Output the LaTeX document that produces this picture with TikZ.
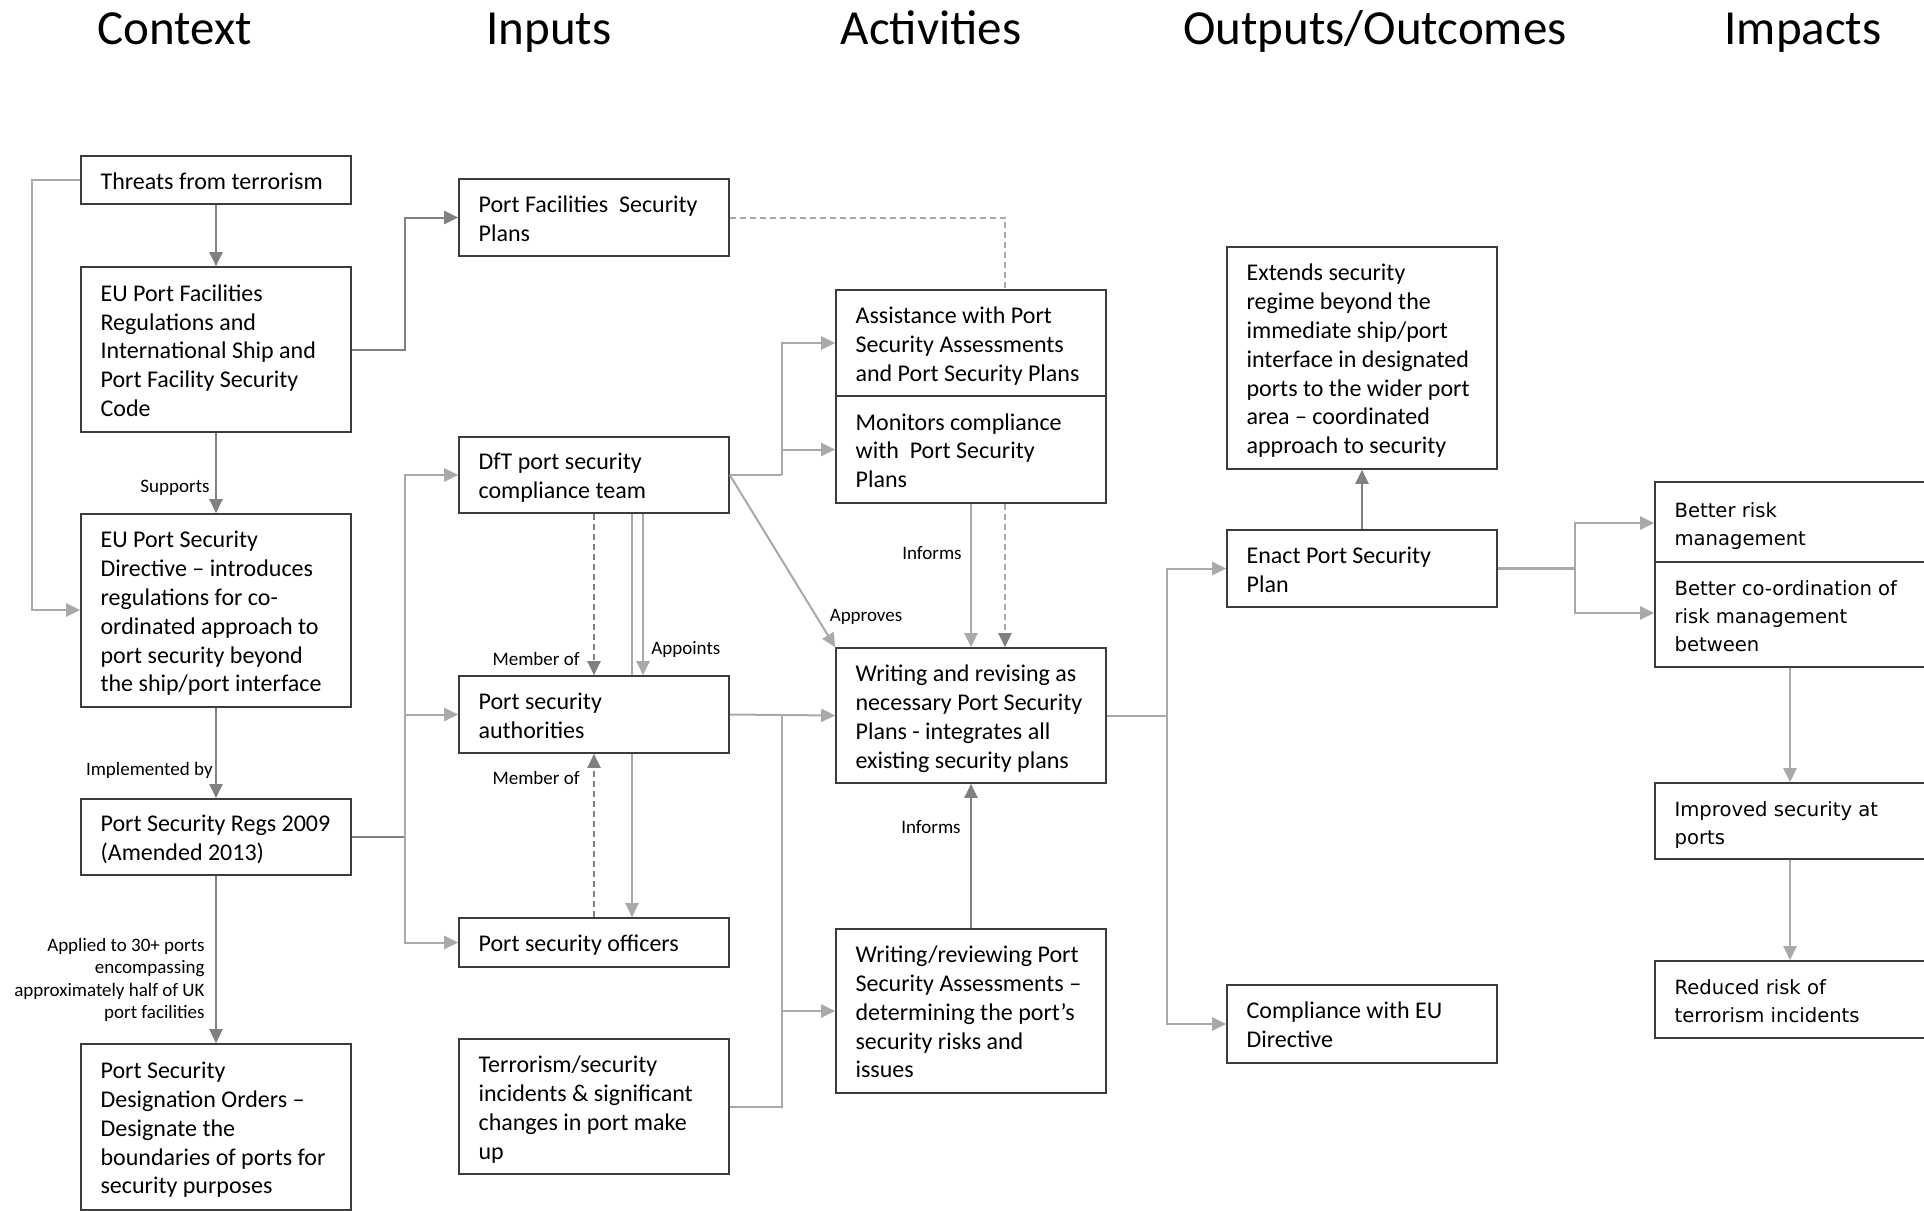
\documentclass[tikz,border=0pt]{standalone}
\usepackage{fontspec}
\setmainfont{Carlito}
\newfontfamily\impfont{DejaVu Sans}
\usetikzlibrary{arrows.meta}
\definecolor{dline}{HTML}{808080}
\definecolor{lline}{HTML}{A9A9A9}
\definecolor{bord}{HTML}{3C3C3C}
\newcommand\bxt[1]{\raisebox{-1.8pt}[\height][\depth]{\makebox[115.4pt][l]{\begin{tabular}{@{}l@{}}#1\end{tabular}}}}
\begin{document}
\begin{tikzpicture}[x=0.5pt,y=-0.5pt,
  box/.style={draw=bord, line width=0.8pt, fill=white, rectangle, inner xsep=9.8pt, inner ysep=1pt,
    minimum width=135pt, font=\fontsize{12}{14.4}\selectfont},
  ibox/.style={box, font=\impfont\fontsize{9.8}{14}\selectfont},
  title/.style={font=\fontsize{24.5}{28}\selectfont, anchor=base},
  lab/.style={font=\fontsize{9.5}{11.3}\selectfont, inner sep=0pt},
  tip/.style={-{Triangle[length=7pt,width=6.5pt]}},
  dl/.style={draw=dline, line width=1pt},
  ll/.style={draw=lline, line width=1pt},
  da/.style={dl, tip},
  la/.style={ll, tip},
  dsh/.style={dash pattern=on 3pt off 2pt}
]
\clip (0,0) rectangle (1924,1211);
\fill[white] (0,0) rectangle (1924,1211);
% titles
\node[title] (t1) at (175,44) {Context};
\node[title] (t2) at (549,44) {Inputs};
\node[title] (t3) at (931,44) {Activities};
\node[title] (t4) at (1375,44) {Outputs/Outcomes};
\node[title] (t5) at (1803,44) {Impacts};
% context
\node[box, minimum height=24pt] (thr) at (216,180) {\bxt{Threats from terrorism}};
\node[box, minimum height=82.5pt] (fac) at (216,349.5) {\bxt{EU Port Facilities\\Regulations and\\International Ship and\\Port Facility Security\\Code}};
\node[box, minimum height=96.5pt] (dir) at (216,610.5) {\bxt{EU Port Security\\Directive – introduces\\regulations for co-\\ordinated approach to\\port security beyond\\the ship/port interface}};
\node[box, minimum height=38pt] (regs) at (216,837) {\bxt{Port Security Regs 2009\\(Amended 2013)}};
\node[box, minimum height=83pt] (des) at (216,1127) {\bxt{Port Security\\Designation Orders –\\Designate the\\boundaries of ports for\\security purposes}};
% inputs
\node[box, minimum height=38.5pt] (pfsp) at (594,217.5) {\bxt{Port Facilities\ \ Security\\Plans}};
\node[box, minimum height=38pt] (dft) at (594,475) {\bxt{DfT port security\\compliance team}};
\node[box, minimum height=38.5pt] (psa) at (594,714.5) {\bxt{Port security\\authorities}};
\node[box, minimum height=24.5pt] (pso) at (594,942.5) {\bxt{Port security officers}};
\node[box, minimum height=67.5pt] (ter) at (594,1106.5) {\bxt{Terrorism/security\\incidents \& significant\\changes in port make\\up}};
% activities
\node[box, minimum height=53pt] (ass) at (971,343) {\bxt{Assistance with Port\\Security Assessments\\and Port Security Plans}};
\node[box, minimum height=53.5pt] (mon) at (971,449.5) {\bxt{Monitors compliance\\with\ \ Port Security\\Plans}};
\node[box, minimum height=67.5pt] (wri) at (971,715.5) {\bxt{Writing and revising as\\necessary Port Security\\Plans - integrates all\\existing security plans}};
\node[box, minimum height=82pt] (rev) at (971,1011) {\bxt{Writing/reviewing Port\\Security Assessments –\\determining the port’s\\security risks and\\issues}};
% outputs
\node[box, minimum height=111pt] (ext) at (1362,358) {\bxt{Extends security\\regime beyond the\\immediate ship/port\\interface in designated\\ports to the wider port\\area – coordinated\\approach to security}};
\node[box, minimum height=38.5pt] (ena) at (1362,568.5) {\bxt{Enact Port Security\\Plan}};
\node[box, minimum height=39pt] (com) at (1362,1024) {\bxt{Compliance with EU\\Directive}};
% impacts
\node[ibox, minimum height=40pt] (brm) at (1790,522) {\bxt{Better risk\\management}};
\node[ibox, minimum height=52.5pt] (bco) at (1790,614.5) {\bxt{Better co-ordination of\\risk management\\between}};
\node[ibox, minimum height=38pt] (imp) at (1790,821) {\bxt{Improved security at\\ports}};
\node[ibox, minimum height=38.5pt] (red) at (1790,999.5) {\bxt{Reduced risk of\\terrorism incidents}};

% context connectors
\draw[da] (thr) -- (fac);
\draw[da] (fac) -- (dir);
\draw[da] (dir) -- (regs);
\draw[da] (regs) -- (des);
\node[lab, anchor=east] (lsup) at (210,488) {Supports};
\node[lab, anchor=east] (limp) at (213,770) {Implemented by};
\node[lab, anchor=east, align=right] (lapp) at (205,980) {Applied to 30+ ports\\encompassing\\approximately half of UK\\port facilities};
\coordinate (lp1) at (32,180);
\coordinate (lp2) at (32,610);
\draw[la] (thr.west) -- (lp1) -- (lp2) -- (dir.west |- lp2);
% to inputs
\coordinate (b1) at (405,349.5);
\draw[da] (fac.east) -- (b1) |- (pfsp.west);
\coordinate (b2) at (405,837);
\draw[dl] (regs.east) -- (b2);
\draw[la] (b2) |- (dft.west);
\draw[la] (b2) |- (psa.west);
\draw[la] (b2) |- (pso.west);
% inputs internal
\draw[da, dsh] (dft.south) -- (psa.north);
\draw[da, dsh] (pso.north) -- (psa.south);
\draw[la] ([xshift=24.5pt]dft.south) -- ([xshift=24.5pt]psa.north);
\draw[ll] ([xshift=19pt]dft.south) -- ([xshift=19pt]psa.north);
\draw[la] ([xshift=19pt]psa.south) -- ([xshift=19pt]pso.north);
\node[lab, anchor=east] (lmo1) at (580,659) {Member of};
\node[lab, anchor=east] (lmo2) at (580,778) {Member of};
\node[lab, anchor=west] (lapt) at (651,649) {Appoints};
% inputs to activities
\draw[ll, dsh] (pfsp.east) -| ([xshift=17pt]ass.north);
\draw[ll, dsh, -{Triangle[length=7pt,width=6.5pt,color=dline]}] ([xshift=17pt]mon.south) -- ([xshift=17pt]wri.north);
\coordinate (b3) at (782,475);
\draw[ll] (dft.east) -- (b3);
\draw[la] (b3) |- (ass.west);
\draw[la] (b3) |- (mon.west);
\draw[la] (dft.east) -- (wri.north west);
\node[lab] (lapr) at (866,617) {Approves};
\draw[la] (psa.east) -- (wri.west);
\coordinate (b4) at (782,715.5);
\draw[ll] (ter.east) -| (b4);
\draw[la] (rev.west -| b4) -- (rev.west);
% activities internal
\draw[la] (mon) -- (wri);
\draw[da] (rev) -- (wri);
\node[lab, anchor=east] (linf1) at (962,553) {Informs};
\node[lab, anchor=east] (linf2) at (961,827) {Informs};
% to outputs
\coordinate (b5) at (1167,715.5);
\draw[ll] (wri.east) -- (b5);
\draw[la] (b5) |- (ena.west);
\draw[la] (b5) |- (com.west);
\draw[da] (ena) -- (ext);
% to impacts
\coordinate (b6) at (1575,568.5);
\draw[ll, line width=1.5pt] (ena.east) -- (b6);
\draw[la] (b6) |- ([yshift=-0.5pt]brm.west);
\draw[la] (b6) |- ([yshift=0.75pt]bco.west);
\draw[la] (bco) -- (imp);
\draw[la] (imp) -- (red);
\end{tikzpicture}
\end{document}
